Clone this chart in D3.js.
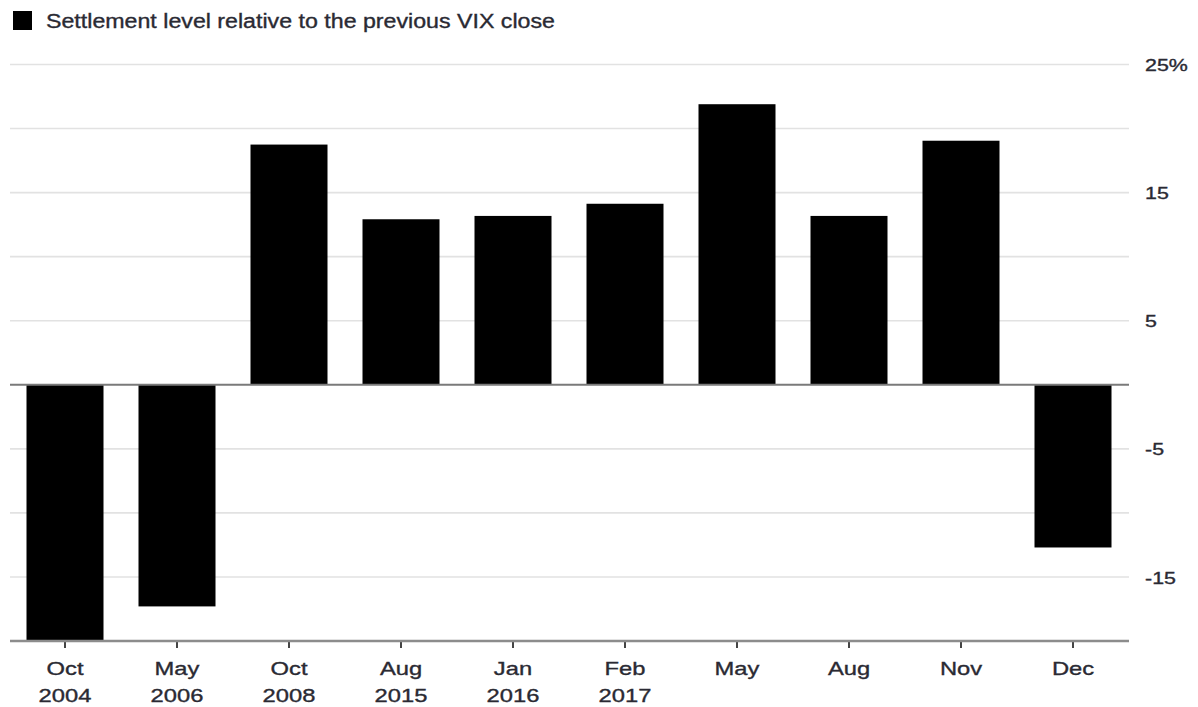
<!DOCTYPE html>
<html>
<head>
<meta charset="utf-8">
<script src="https://cdn.jsdelivr.net/npm/d3@7"></script>
<style>
  html, body { margin: 0; padding: 0; background: #fff; }
  svg { display: block; font-family: "Liberation Sans", Arial, sans-serif; }
  .lbl { stroke: #2a2a33; stroke-width: 0.35px; }
</style>
</head>
<body>
<svg id="chart" width="1198" height="707"></svg>
<script>
// Settlement dates (month / year lines)
const months = ["Oct", "May", "Oct", "Aug", "Jan", "Feb", "May", "Aug", "Nov", "Dec"];
const years  = ["2004", "2006", "2008", "2015", "2016", "2017", "", "", "", ""];
// Settlement level relative to previous VIX close, %
const values = [-20, -17.3, 18.75, 12.92, 13.18, 14.13, 21.9, 13.18, 19.05, -12.7];
// Right-axis labelled ticks and gridline values
const yTickValues = [25, 15, 5, -5, -15];
const gridValues = [25, 20, 15, 10, 5, -5, -10, -15];
const legendLabel = "Settlement level relative to the previous VIX close";

const keys = months.map((m, i) => i);

const svg = d3.select("#chart");
const left = 10, right = 1129;
const yTop = 64.5, yBottom = 641;

const x = d3.scaleBand()
  .domain(keys)
  .range([9, 1129])
  .paddingInner(0.3125)
  .paddingOuter(0.15625);

const y = d3.scaleLinear().domain([-20, 25]).range([yBottom, yTop]);

// Gridlines
svg.append("g")
  .selectAll("line")
  .data(gridValues)
  .join("line")
  .attr("x1", left).attr("x2", right)
  .attr("y1", d => y(d)).attr("y2", d => y(d))
  .attr("stroke", "#e2e2e2")
  .attr("stroke-width", 1.6);

// Bars
svg.append("g")
  .selectAll("rect")
  .data(values)
  .join("rect")
  .attr("x", (d, i) => x(i))
  .attr("width", x.bandwidth())
  .attr("y", d => y(Math.max(0, d)))
  .attr("height", d => Math.abs(y(d) - y(0)))
  .attr("fill", "#000");

// Zero line
svg.append("line")
  .attr("x1", left).attr("x2", right)
  .attr("y1", y(0)).attr("y2", y(0))
  .attr("stroke", "#7a7a7a")
  .attr("stroke-width", 2);

// Bottom axis with tick marks at band centres
const xAxis = svg.append("g")
  .attr("transform", `translate(0,${yBottom})`)
  .call(d3.axisBottom(x).tickSize(7).tickSizeOuter(0).tickFormat(""));
xAxis.select(".domain").remove();
xAxis.selectAll(".tick line").attr("stroke", "#444").attr("stroke-width", 2);
svg.append("line")
  .attr("x1", left).attr("x2", right)
  .attr("y1", yBottom).attr("y2", yBottom)
  .attr("stroke", "#8c8c8c")
  .attr("stroke-width", 2.5);

// Two-line category labels
const xLab = svg.append("g")
  .selectAll("g")
  .data(keys)
  .join("g")
  .attr("transform", i => `translate(${x(i) + x.bandwidth() / 2},0)`);
xLab.append("text")
  .attr("class", "lbl")
  .attr("transform", "translate(0,675) scale(1.25,1)")
  .attr("text-anchor", "middle")
  .attr("font-size", 19)
  .attr("fill", "#2a2a33")
  .text(i => months[i]);
xLab.append("text")
  .attr("class", "lbl")
  .attr("transform", "translate(0,702) scale(1.25,1)")
  .attr("text-anchor", "middle")
  .attr("font-size", 19)
  .attr("fill", "#2a2a33")
  .text(i => years[i]);

// Right axis labels
const yAxis = svg.append("g")
  .attr("transform", `translate(1145,0)`)
  .call(d3.axisRight(y).tickValues(yTickValues).tickSize(0).tickPadding(0)
    .tickFormat(d => d === 25 ? "25%" : String(d)));
yAxis.select(".domain").remove();
yAxis.selectAll(".tick text")
  .attr("class", "lbl")
  .attr("x", 0)
  .attr("dy", "0.36em")
  .attr("transform", "scale(1.26,1)")
  .attr("font-family", "Liberation Sans, Arial, sans-serif")
  .attr("font-size", 17)
  .attr("fill", "#2a2a33");

// Legend
svg.append("rect")
  .attr("x", 13).attr("y", 11)
  .attr("width", 19).attr("height", 19)
  .attr("fill", "#000");
svg.append("text")
  .attr("class", "lbl")
  .attr("transform", "translate(46,28) scale(1.16,1)")
  .attr("font-size", 20)
  .attr("fill", "#2a2a33")
  .text(legendLabel);
</script>
</body>
</html>
